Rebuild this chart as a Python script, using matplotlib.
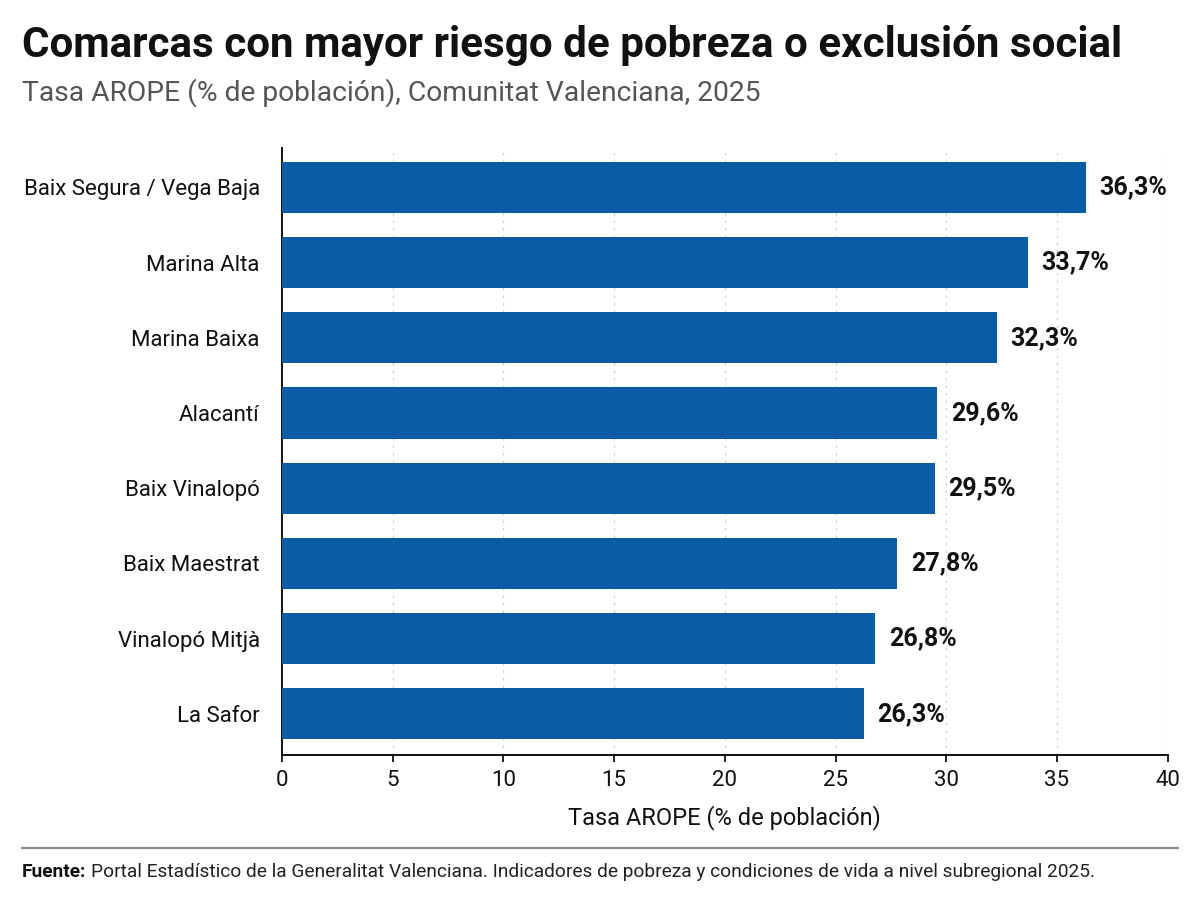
import matplotlib.pyplot as plt
from matplotlib.lines import Line2D

comarcas = [
    "Baix Segura / Vega Baja", "Marina Alta", "Marina Baixa", "Alacantí",
    "Baix Vinalopó", "Baix Maestrat", "Vinalopó Mitjà", "La Safor",
]
tasa = [36.3, 33.7, 32.3, 29.6, 29.5, 27.8, 26.8, 26.3]
etiquetas = ["36,3%", "33,7%", "32,3%", "29,6%", "29,5%", "27,8%", "26,8%", "26,3%"]
xticks = [0, 5, 10, 15, 20, 25, 30, 35, 40]

AZUL = "#0B5CA6"
plt.rcParams["font.family"] = ["Roboto", "DejaVu Sans"]

fig = plt.figure(figsize=(12, 9), dpi=100)
ax = fig.add_axes([0.235, 0.161, 0.738, 0.675])

y = list(range(len(comarcas)))
ax.barh(y, tasa, height=0.68, color=AZUL, zorder=3)
for yi, v, lab in zip(y, tasa, etiquetas):
    ax.text(v + 0.6, yi, lab, va="center", ha="left", fontsize=18,
            fontweight="bold", color="#111111", zorder=4)

ax.set_ylim(7.55, -0.53)
ax.set_yticks(y)
ax.set_yticklabels(comarcas, fontsize=16, color="#111111")
ax.tick_params(axis="y", length=0, pad=16)

ax.set_xlim(0, 40)
ax.set_xticks(xticks)
ax.set_xticklabels([str(t) for t in xticks], fontsize=16, color="#111111")
ax.tick_params(axis="x", length=5, width=1.2, pad=6)
ax.set_xlabel("Tasa AROPE (% de población)", fontsize=17, color="#111111", labelpad=10)

ax.grid(axis="x", linestyle=(0, (2, 4)), color="#d0d0d0", linewidth=0.9, zorder=0)
for s in ["top", "right"]:
    ax.spines[s].set_visible(False)
for s in ["left", "bottom"]:
    ax.spines[s].set_linewidth(1.4)
    ax.spines[s].set_color("#111111")

fig.text(0.018, 0.95, "Comarcas con mayor riesgo de pobreza o exclusión social",
         fontsize=30.3, fontweight="bold", color="#111111", va="center")
fig.text(0.018, 0.897, "Tasa AROPE (% de población), Comunitat Valenciana, 2025",
         fontsize=20.3, color="#555555", va="center")

fig.add_artist(Line2D([0.018, 0.982], [0.058, 0.058], transform=fig.transFigure,
                      color="#888888", linewidth=1.5))
fig.text(0.018, 0.031, "Fuente:", fontsize=13.8, fontweight="bold",
         color="#111111", va="center")
fig.text(0.076, 0.031,
         "Portal Estadístico de la Generalitat Valenciana. Indicadores de pobreza y condiciones de vida a nivel subregional 2025.",
         fontsize=13.8, color="#222222", va="center")

fig.savefig("out.png", dpi=100, facecolor="white")
